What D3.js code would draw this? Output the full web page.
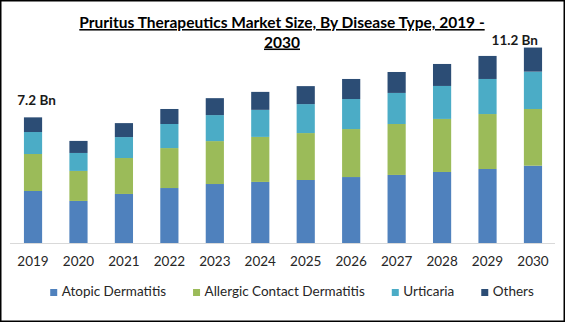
<!DOCTYPE html>
<html>
<head>
<meta charset="utf-8">
<script src="https://cdn.jsdelivr.net/npm/d3@7"></script>
<style>
  html, body { margin: 0; padding: 0; background: #fff; }
  svg { display: block; }
  text { font-family: Lato, "Open Sans", sans-serif; }
</style>
</head>
<body>
<svg id="chart" width="565" height="322"></svg>
<script>
// Market size by disease type, USD billions
const years = ["2019", "2020", "2021", "2022", "2023", "2024", "2025", "2026", "2027", "2028", "2029", "2030"];
const atopicDermatitis = [2.98, 2.41, 2.81, 3.15, 3.38, 3.50, 3.61, 3.78, 3.90, 4.07, 4.24, 4.43];
const allergicContactDermatitis = [2.12, 1.72, 2.06, 2.29, 2.46, 2.58, 2.69, 2.75, 2.92, 3.04, 3.15, 3.25];
const urticaria = [1.26, 1.03, 1.20, 1.38, 1.49, 1.55, 1.66, 1.72, 1.78, 1.89, 2.01, 2.14];
const others = [0.84, 0.69, 0.80, 0.86, 0.97, 1.03, 1.03, 1.15, 1.20, 1.26, 1.32, 1.38];
const seriesNames = ["Atopic Dermatitis", "Allergic Contact Dermatitis", "Urticaria", "Others"];
const seriesColors = ["#4f81bd", "#9bbb59", "#4bacc6", "#2c4d75"];
const titleLines = ["Pruritus Therapeutics Market Size, By Disease Type, 2019 -", "2030"];
const labelledYears = ["2019", "2030"];

const W = 565, H = 322;
const svg = d3.select("#chart");

// frame
svg.append("rect")
  .attr("x", 0.75).attr("y", 0.75)
  .attr("width", W - 1.5).attr("height", H - 1.5)
  .attr("fill", "#fff").attr("stroke", "#000").attr("stroke-width", 1.5);

const seriesValues = [atopicDermatitis, allergicContactDermatitis, urticaria, others];
const rows = years.map((y, i) => {
  const r = { year: y };
  seriesNames.forEach((s, k) => { r[s] = seriesValues[k][i]; });
  return r;
});
const stacked = d3.stack().keys(seriesNames)(rows);

const x = d3.scaleBand().domain(years).range([10.3, 555.7]).paddingInner(0.6).paddingOuter(0.3);
const y = d3.scaleLinear().domain([0, 12.5]).range([243, 243 - 17.45 * 12.5]);

// stacked bars
svg.append("g").selectAll("g")
  .data(stacked)
  .join("g")
  .attr("fill", (d, i) => seriesColors[i])
  .selectAll("rect")
  .data(d => d)
  .join("rect")
  .attr("x", d => x(d.data.year))
  .attr("width", x.bandwidth())
  .attr("y", d => y(d[1]))
  .attr("height", d => y(d[0]) - y(d[1]));

// category axis
const xAxis = svg.append("g")
  .attr("transform", "translate(0,243)")
  .call(d3.axisBottom(x).tickSize(0).tickPadding(13));
xAxis.select(".domain").attr("stroke", "#d9d9d9").attr("d", "M10,0.5H555");
xAxis.selectAll("text")
  .attr("font-family", "Lato, 'Open Sans', sans-serif")
  .attr("font-size", 13.5)
  .attr("fill", "#262626");

// total labels on first and last year
const fmt = d3.format(".1f");
const totals = rows.map(r => d3.sum(seriesNames, s => r[s]));
labelledYears.forEach(yr => {
  const i = years.indexOf(yr);
  const cx = x(yr) + x.bandwidth() / 2;
  const last = i === years.length - 1;
  svg.append("text")
    .attr("x", last ? cx + 5 : cx + 3.5)
    .attr("y", y(totals[i]) - (last ? 3 : 12))
    .attr("text-anchor", last ? "end" : "middle")
    .attr("font-size", 13.5)
    .attr("font-weight", "bold")
    .attr("fill", "#1a1a1a")
    .text(fmt(totals[i]) + " Bn");
});

// title
const title = svg.append("text")
  .attr("text-anchor", "middle")
  .attr("font-size", 15.5)
  .attr("font-weight", "bold")
  .attr("fill", "#000")
  .attr("text-decoration", "underline");
titleLines.forEach((t, i) => {
  title.append("tspan").attr("x", 282).attr("y", 28 + i * 19.5).text(t);
});

// legend
const legend = svg.append("g").attr("transform", "translate(0,296)");
const items = legend.selectAll("g").data(seriesNames).join("g");
items.append("rect")
  .attr("y", -7).attr("width", 7).attr("height", 7)
  .attr("fill", (d, i) => seriesColors[i]);
items.append("text")
  .attr("x", 11.5).attr("y", 0)
  .attr("font-size", 13.5)
  .attr("fill", "#262626")
  .text(d => d);
let cursor = 0;
const offsets = [];
items.each(function() {
  offsets.push(cursor);
  const w = 11.5 + this.querySelector("text").getComputedTextLength();
  cursor += w + 27;
});
const total = cursor - 27;
const start = 292 - total / 2;
items.attr("transform", (d, i) => `translate(${start + offsets[i]},0)`);
</script>
</body>
</html>
